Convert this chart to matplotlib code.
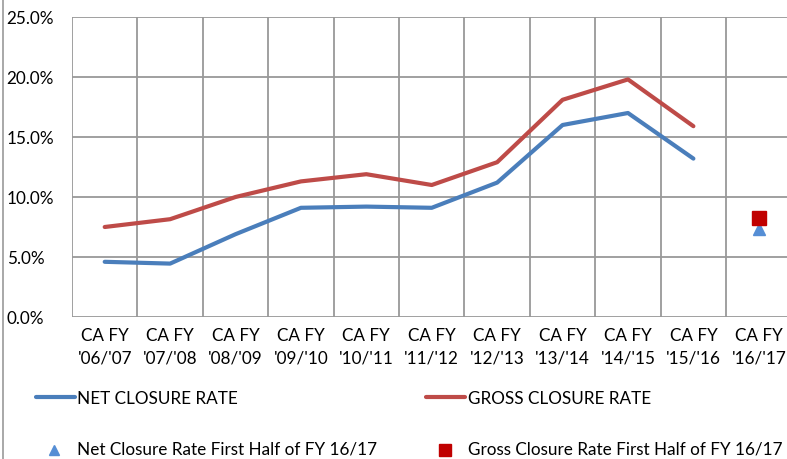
import matplotlib
matplotlib.use("Agg")
import matplotlib.pyplot as plt
from matplotlib.lines import Line2D
from matplotlib.ticker import PercentFormatter

plt.rcParams['font.family'] = ['Lato', 'DejaVu Sans']

categories = ["CA FY\n'06/'07", "CA FY\n'07/'08", "CA FY\n'08/'09", "CA FY\n'09/'10",
              "CA FY\n'10/'11", "CA FY\n'11/'12", "CA FY\n'12/'13", "CA FY\n'13/'14",
              "CA FY\n'14/'15", "CA FY\n'15/'16", "CA FY\n'16/'17"]
net_rate = [4.6, 4.45, 6.9, 9.1, 9.2, 9.1, 11.2, 16.0, 17.0, 13.2]
gross_rate = [7.5, 8.15, 10.0, 11.3, 11.9, 11.0, 12.9, 18.1, 19.8, 15.9]
net_half = 7.35
gross_half = 8.25
yticks = [0, 5, 10, 15, 20, 25]

FS = 12.3
W, H = 787, 460
fig = plt.figure(figsize=(W/100, H/100), dpi=100)
ax = fig.add_axes([72/W, (H-318)/H, (791.5-72)/W, 300/H])

blue = '#4A7EBB'
red = '#BE4B48'
x = list(range(len(net_rate)))
ax.plot(x, net_rate, color=blue, lw=3, solid_capstyle='round', zorder=3)
ax.plot(x, gross_rate, color=red, lw=3, solid_capstyle='round', zorder=3)
ax.plot([10], [net_half], marker='^', color='#558ED5', ms=8, ls='none', zorder=4)
ax.plot([10], [gross_half], marker='s', color='#C00000', ms=10, ls='none', zorder=4)

ax.set_xlim(-0.5, 10.5)
ax.set_ylim(0, 25)
ax.set_yticks(yticks)
ax.yaxis.set_major_formatter(PercentFormatter(decimals=1))
ax.set_xticks([i + 0.5 for i in range(-1, 11)], minor=False)
ax.set_xticks(range(11), minor=True)
ax.set_xticklabels([''] * 12)
ax.set_xticklabels(categories, minor=True)
ax.grid(True, which='major', color='#999999', lw=1.3)
ax.set_axisbelow(True)
for s in ax.spines.values():
    s.set_visible(False)
ax.tick_params(which='both', length=0)
ax.tick_params(axis='x', which='minor', pad=7, labelsize=FS)
ax.tick_params(axis='y', pad=47, labelsize=FS)
for lbl in ax.get_yticklabels():
    lbl.set_ha('left')
for lbl in ax.get_xticklabels(minor=True):
    lbl.set_linespacing(1.5)

def fx(px):
    return px / W

def fy(py):
    return (H - py) / H

# chart frame left edge
fig.add_artist(Line2D([fx(2.5), fx(2.5)], [0, 1], color='#999999', lw=1.2))

# legend
fig.add_artist(Line2D([fx(36), fx(75)], [fy(398), fy(398)], color=blue, lw=3, solid_capstyle='round'))
fig.text(fx(77), fy(399), 'NET CLOSURE RATE', fontsize=FS, va='center', ha='left')
fig.add_artist(Line2D([fx(426), fx(465)], [fy(398), fy(398)], color=red, lw=3, solid_capstyle='round'))
fig.text(fx(468), fy(399), 'GROSS CLOSURE RATE', fontsize=FS, va='center', ha='left')
fig.add_artist(Line2D([fx(54)], [fy(451)], marker='^', color='#558ED5', ms=7, ls='none'))
fig.text(fx(77), fy(450), 'Net Closure Rate First Half of FY 16/17', fontsize=FS, va='center', ha='left')
fig.add_artist(Line2D([fx(445)], [fy(451)], marker='s', color='#C00000', ms=8, ls='none'))
fig.text(fx(468), fy(450), 'Gross Closure Rate First Half of FY 16/17', fontsize=FS, va='center', ha='left')

fig.savefig('out.png', dpi=100)
